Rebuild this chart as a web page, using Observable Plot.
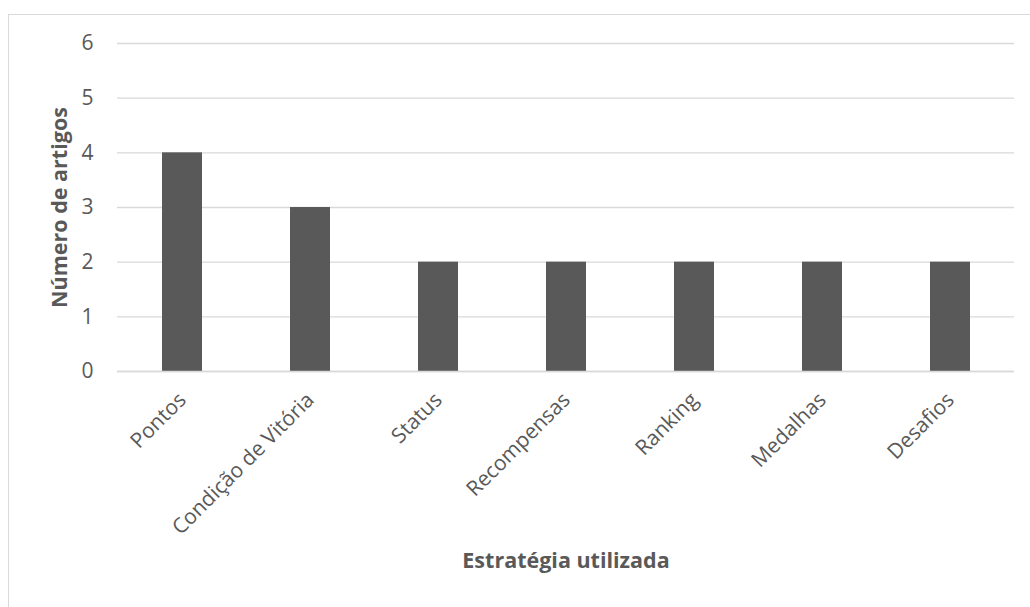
<!DOCTYPE html>
<html>
<head>
<meta charset="utf-8">
<script src="https://cdn.jsdelivr.net/npm/d3@7"></script>
<script src="https://cdn.jsdelivr.net/npm/@observablehq/plot@0.6"></script>
<style>
  html, body { margin: 0; padding: 0; background: #fff; }
  #wrap { position: relative; width: 1030px; height: 607px; overflow: hidden; }
  #border { position: absolute; left: 8px; top: 14px; width: 1030px; height: 620px; border: 1px solid #d9d9d9; box-sizing: border-box; pointer-events: none; }
  #chart { position: absolute; left: 0; top: 0; }
</style>
</head>
<body>
<div id="wrap">
  <div id="chart"></div>
  <div id="border"></div>
</div>
<script>
const categories = ["Pontos", "Condição de Vitória", "Status", "Recompensas", "Ranking", "Medalhas", "Desafios"];
const values = [4, 3, 2, 2, 2, 2, 2];
const yTicks = [0, 1, 2, 3, 4, 5, 6];
const xTitle = "Estratégia utilizada";
const yTitle = "Número de artigos";

const data = categories.map((c, i) => ({ cat: c, val: values[i] }));
const font = "'Open Sans', sans-serif";
const textColor = "#595959";

const chart = Plot.plot({
  width: 1030,
  height: 607,
  marginLeft: 117,
  marginRight: 16,
  marginTop: 43,
  marginBottom: 236,
  style: { fontFamily: font, fontSize: "20px", color: textColor, background: "transparent" },
  x: { domain: categories, paddingInner: 0.69, paddingOuter: 0.345, label: null },
  y: { domain: [0, 6], label: null },
  marks: [
    Plot.gridY(yTicks, { stroke: "#d9d9d9", strokeOpacity: 1, strokeWidth: 1.3 }),
    Plot.barY(data, { x: "cat", y: "val", fill: "#595959" }),
    Plot.ruleY([0], { stroke: "#d9d9d9", strokeWidth: 1.3 }),
    Plot.axisY(yTicks, { tickSize: 0, tickPadding: 24, label: null, tickFormat: d => String(d), fill: textColor, fontSize: 21 }),
    Plot.axisX({ tickSize: 0, tickRotate: -45, tickPadding: 25, label: null, fill: textColor, fontSize: 21 }),
    Plot.text([yTitle], { frameAnchor: "left", textAnchor: "middle", dx: -57, rotate: -90, fill: textColor, fontWeight: "bold", fontSize: 21.5 }),
    Plot.text([xTitle], { frameAnchor: "bottom", textAnchor: "middle", dy: 196, fill: textColor, fontWeight: "bold", fontSize: 21.5 })
  ]
});
document.getElementById("chart").appendChild(chart);
</script>
</body>
</html>
